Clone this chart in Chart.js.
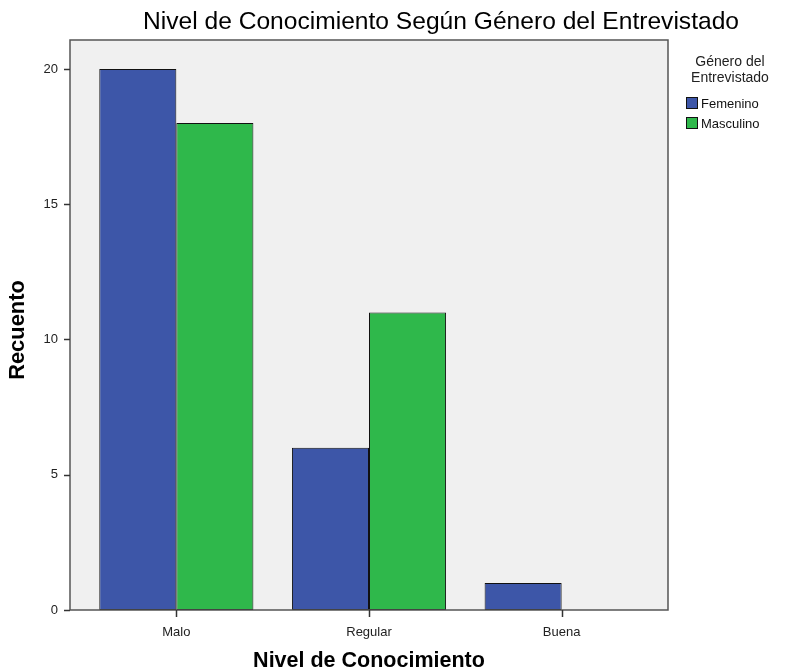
<!DOCTYPE html>
<html>
<head>
<meta charset="utf-8">
<script src="https://cdn.jsdelivr.net/npm/chart.js@4"></script>
<style>
  html, body { margin: 0; padding: 0; background: #fff; }
  #wrap { width: 785px; height: 672px; }
</style>
</head>
<body>
<div id="wrap"><canvas id="myChart" width="785" height="672"></canvas></div>
<script>
const categories = ['Malo', 'Regular', 'Buena']
const femenino = [20, 6, 1]
const masculino = [18, 11, 0]
const yTicks = [0, 5, 10, 15, 20]

const FONT = '"Liberation Sans", Arial, sans-serif'
const plotBg = '#f0f0f0'
const frameColor = '#555555'

// draw text scaled so it fills a given width
function fitText(ctx, text, x, y, width, style) {
    ctx.font = style + ' 20px ' + FONT
    const w = ctx.measureText(text).width
    ctx.font = style + ' ' + (20 * width / w).toFixed(1) + 'px ' + FONT
    ctx.fillText(text, x, y)
}

// background, frame, tick marks and the loose texts
const spssFrame = {
    id: 'spssFrame',
    beforeDraw(chart) {
        const { ctx, chartArea: a } = chart
        ctx.save()
        ctx.fillStyle = plotBg
        ctx.fillRect(a.left - 10, a.top, a.right - a.left + 20, a.bottom - a.top)
        ctx.restore()
    },
    afterDatasetsDraw(chart) {
        const { ctx, chartArea: a, scales } = chart
        const L = a.left - 10, R = a.right + 10
        ctx.save()
        ctx.strokeStyle = frameColor
        ctx.lineWidth = 1.5
        ctx.strokeRect(L, a.top, R - L, a.bottom - a.top)

        ctx.strokeStyle = '#333'
        yTicks.forEach(v => {
            const y = Math.round(scales.y.getPixelForValue(v)) + 0.5
            ctx.beginPath(); ctx.moveTo(L - 6, y); ctx.lineTo(L, y); ctx.stroke()
        })
        categories.forEach((c, i) => {
            const x = Math.round(scales.x.getPixelForValue(i)) + 0.5
            ctx.beginPath(); ctx.moveTo(x, a.bottom); ctx.lineTo(x, a.bottom + 7); ctx.stroke()
        })

        ctx.fillStyle = '#000'
        ctx.textBaseline = 'middle'
        ctx.textAlign = 'center'
        fitText(ctx, 'Nivel de Conocimiento Según Género del Entrevistado', 441, 22, 597, 'normal')

        fitText(ctx, 'Nivel de Conocimiento', 369, 661, 232, 'bold')
        ctx.save()
        ctx.translate(18, 330)
        ctx.rotate(-Math.PI / 2)
        fitText(ctx, 'Recuento', 0, 0, 100, 'bold')
        ctx.restore()

        // legend
        ctx.fillStyle = '#222'
        ctx.font = '14px ' + FONT
        ctx.fillText('Género del', 730, 62)
        ctx.fillText('Entrevistado', 730, 78)
        ctx.textAlign = 'left'
        ctx.font = '13px ' + FONT
        chart.data.datasets.forEach((ds, i) => {
            const y = 97 + i * 20
            ctx.fillStyle = ds.backgroundColor
            ctx.fillRect(686, y, 12, 12)
            ctx.strokeStyle = '#111'
            ctx.lineWidth = 1
            ctx.strokeRect(686.5, y + 0.5, 11, 11)
            ctx.fillStyle = '#111'
            ctx.fillText(ds.label, 701, y + 7)
        })
        ctx.restore()
    }
}

new Chart(document.getElementById('myChart'), {
    type: 'bar',
    data: {
        labels: categories,
        datasets: [
            {
                label: 'Femenino',
                data: femenino,
                backgroundColor: '#3d56a8',
                borderColor: '#111',
                borderWidth: c => (c.raw ? 1 : 0),
                borderSkipped: false,
            },
            {
                label: 'Masculino',
                data: masculino,
                backgroundColor: '#2fb84b',
                borderColor: '#111',
                borderWidth: c => (c.raw ? 1 : 0),
                borderSkipped: false,
            },
        ],
    },
    options: {
        responsive: false,
        animation: false,
        layout: { padding: { left: 0, right: 127, top: 40, bottom: 0 } },
        datasets: { bar: { categoryPercentage: 0.8, barPercentage: 1 } },
        plugins: {
            legend: { display: false },
            title: { display: false },
            tooltip: { enabled: false },
        },
        scales: {
            x: {
                grid: { display: false },
                border: { display: false },
                ticks: { color: '#222', font: { family: FONT, size: 13 }, padding: 7 },
                afterFit: s => { s.height = 62 },
            },
            y: {
                min: 0,
                max: 21.07,
                grid: { display: false },
                border: { display: false },
                ticks: { stepSize: 5, color: '#222', font: { family: FONT, size: 13 }, padding: 14 },
                afterBuildTicks: s => { s.ticks = yTicks.map(v => ({ value: v })) },
                afterFit: s => { s.width = 80 },
            },
        },
    },
    plugins: [spssFrame],
})
</script>
</body>
</html>
